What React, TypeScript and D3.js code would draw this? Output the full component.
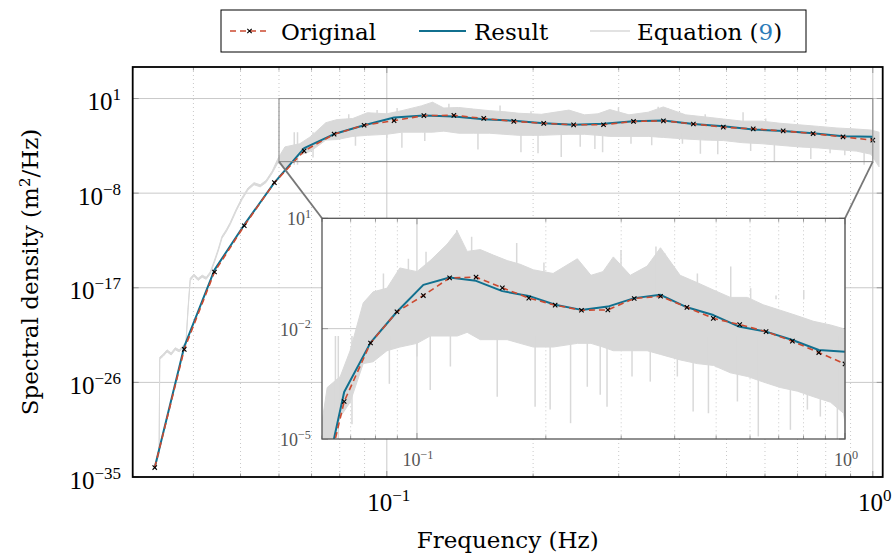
import * as d3 from "d3";

// marker frequencies (Hz)
const freq = [
  0.0333, 0.0383, 0.0442, 0.0509, 0.0587, 0.0676, 0.0779, 0.0898, 0.1035,
  0.1192, 0.1374, 0.1583, 0.1825, 0.2103, 0.2423, 0.2792, 0.3218, 0.3708,
  0.4273, 0.4924, 0.5675, 0.654, 0.7536, 0.8684, 1.0,
];
// log10 of spectral density
const originalExp = [
  -34.1, -22.86, -15.5, -11.1, -7.0, -3.98, -2.39, -1.54, -1.1, -0.62, -0.6,
  -0.89, -1.17, -1.36, -1.5, -1.49, -1.18, -1.12, -1.42, -1.72, -1.89, -2.08,
  -2.34, -2.65, -2.96,
];
const resultExp = [
  -34.1, -22.6, -15.3, -11.0, -7.0, -3.72, -2.38, -1.54, -0.81, -0.61, -0.7,
  -0.98, -1.11, -1.35, -1.49, -1.4, -1.17, -1.08, -1.42, -1.63, -1.95, -2.08,
  -2.31, -2.58, -2.63,
];

// Equation (9): noisy spectrum, read as a band (low / high edge, log10)
const grayFreq = [
  0.0333, 0.034, 0.0341, 0.0347, 0.0353, 0.036, 0.0367, 0.0374, 0.0381,
  0.0386, 0.039, 0.0394, 0.0401, 0.0409, 0.0417, 0.0425, 0.0433, 0.0441,
  0.045, 0.0458, 0.0467, 0.0476, 0.049, 0.0504, 0.0518, 0.0533, 0.0549,
  0.0564, 0.0581, 0.0597, 0.0617, 0.0662, 0.0698, 0.0749, 0.079, 0.0851,
  0.0912, 0.1, 0.1074, 0.1177, 0.1242, 0.131, 0.1406, 0.1508, 0.1625,
  0.1742, 0.187, 0.208, 0.237, 0.255, 0.272, 0.2876, 0.315, 0.345, 0.3706,
  0.412, 0.4517, 0.493, 0.5396, 0.5916, 0.644, 0.706, 0.774, 0.8436, 0.925,
  0.992, 1.03,
];
const grayLo = [
  -34.2, -32.8, -23.8, -23.5, -23.1, -23.4, -22.9, -23.1, -22.7, -22.4,
  -19.1, -16.3, -15.9, -16.3, -16.0, -16.2, -15.7, -14.7, -13.5, -12.3,
  -11.7, -11.0, -9.7, -8.6, -7.7, -7.2, -7.4, -7.0, -6.1, -5.1, -5.6, -4.4,
  -4.0, -2.95, -2.9, -2.6, -2.5, -2.4, -2.2, -2.2, -2.2, -2.1, -2.3, -2.3,
  -2.3, -2.4, -2.5, -2.5, -2.4, -2.4, -2.5, -2.6, -2.6, -2.6, -2.7, -2.85,
  -2.95, -3.0, -3.2, -3.3, -3.45, -3.6, -3.7, -3.85, -4.0, -4.3, -5.5,
];
const grayHi = [
  -34.0, -32.6, -23.6, -23.3, -22.9, -23.2, -22.7, -22.9, -22.5, -22.2,
  -18.9, -16.1, -15.7, -16.1, -15.8, -16.0, -15.5, -14.5, -13.3, -12.1,
  -11.5, -10.8, -9.5, -8.4, -7.5, -7.0, -7.2, -6.8, -5.9, -4.7, -3.6, -3.3,
  -2.6, -1.3, -1.0, -0.9, -0.35, -0.45, -0.15, 0.3, 0.65, 0.1, 0.15, 0.0,
  -0.15, -0.25, -0.4, -0.5, -0.1, -0.55, -0.45, -0.05, -0.55, -0.3, 0.2,
  -0.55, -0.75, -0.95, -1.15, -1.15, -1.35, -1.5, -1.65, -1.8, -1.9, -2.0,
  -2.2,
];
// isolated spikes of the noisy spectrum (frequency, tip in log10)
const upSpikeFreq = [
  0.0835, 0.0955, 0.105, 0.1239, 0.1342, 0.1477, 0.171, 0.198, 0.2997,
  0.3617, 0.3793, 0.452, 0.5408, 0.602, 0.69, 0.801,
];
const upSpikeTip = [
  -0.5, -0.1, 0.09, 0.68, 0.5, -0.04, 0.33, -0.2, 0.14, 0.23, 0.05, -0.5,
  -0.31, -0.9, -1.1, -0.95,
];
const downSpikeFreq = [
  0.0645, 0.0655, 0.0705, 0.0862, 0.1, 0.1074, 0.1197, 0.154, 0.1888,
  0.2047, 0.2285, 0.25, 0.268, 0.278, 0.318, 0.3508, 0.4058, 0.4418, 0.4797,
  0.5606, 0.6273, 0.7455, 0.8168, 0.8758, 0.9597,
];
const downSpikeTip = [
  -5.3, -5.3, -4.6, -3.5, -2.76, -3.67, -3.03, -3.85, -4.12, -4.2, -4.57,
  -3.58, -3.8, -4.12, -3.3, -3.44, -3.3, -4.25, -4.3, -3.98, -4.93, -4.75,
  -4.2, -4.39, -5.3,
];

const mainXMinor = [0.03, 0.04, 0.05, 0.06, 0.07, 0.08, 0.09, 0.2, 0.3, 0.4, 0.5, 0.6, 0.7, 0.8, 0.9];
const mainXMajor = [0.1, 1];
const mainYMajor = [1, -8, -17, -26, -35];
const insetYMajor = [1, -2, -5];

const BLUE = "#11708f";
const RED = "#cc4a30";
const GRAY = "#d9d9d9";
const GRID = "#c9c9c9";

const p = (e: number) => Math.pow(10, e);
const sup = (e: number) => (e < 0 ? "\u2212" + -e : String(e));

const mainBox = { l: 132.7, r: 882.7, t: 67, b: 477 };
const insetBox = { l: 322, r: 845, t: 218.3, b: 439 };

const xMain = d3.scaleLog().domain([0.03, 1.048]).range([mainBox.l, mainBox.r]);
const yMain = d3.scaleLog().domain([1e-35, 1e4]).range([mainBox.b, mainBox.t]);
const xIn = d3.scaleLog().domain([0.06, 1]).range([insetBox.l, insetBox.r]);
const yIn = d3.scaleLog().domain([1e-5, 1e1]).range([insetBox.b, insetBox.t]);

function Pow({ x, y, e, size, anchor, fill }: any) {
  return (
    <text x={x} y={y} textAnchor={anchor} fontFamily="Liberation Serif" fontSize={size} fill={fill}>
      10
      <tspan dy={-size * 0.4} fontSize={size * 0.68}>
        {sup(e)}
      </tspan>
    </text>
  );
}

function Series({ x, y }: any) {
  const band = d3
    .area<number>()
    .x((i) => x(grayFreq[i]))
    .y0((i) => y(p(grayLo[i])))
    .y1((i) => y(p(grayHi[i])));
  const idx = d3.range(grayFreq.length);
  const mk = d3.line<number>().x((i) => x(freq[i]));
  const ids = d3.range(freq.length);
  return (
    <g>
      <path d={band(idx) ?? ""} fill={GRAY} stroke={GRAY} strokeWidth={1} />
      {upSpikeFreq.map((f, i) => (
        <line key={"u" + i} x1={x(f)} x2={x(f)} y1={y(p(-1.2))} y2={y(p(upSpikeTip[i]))} stroke={GRAY} strokeWidth={1.5} />
      ))}
      {downSpikeFreq.map((f, i) => (
        <line key={"d" + i} x1={x(f)} x2={x(f)} y1={y(p(-2.2))} y2={y(p(downSpikeTip[i]))} stroke={GRAY} strokeWidth={1.5} />
      ))}
      <path d={mk.y((i) => y(p(resultExp[i])))(ids) ?? ""} fill="none" stroke={BLUE} strokeWidth={2} strokeLinejoin="round" />
      <path d={mk.y((i) => y(p(originalExp[i])))(ids) ?? ""} fill="none" stroke={RED} strokeWidth={1.6} strokeDasharray="6,4" />
      {ids.map((i) => (
        <path
          key={i}
          transform={`translate(${x(freq[i])},${y(p(originalExp[i]))})`}
          d="M-2.2,-2.2L2.2,2.2M-2.2,2.2L2.2,-2.2"
          stroke="#000"
          strokeWidth={1.1}
        />
      ))}
    </g>
  );
}

function Ticks({ x, y, box, yTicks }: any) {
  const out: any[] = [];
  mainXMajor.concat(mainXMinor).forEach((f, i) => {
    const [d0, d1] = x.domain();
    if (f < d0 || f > d1 + 1e-9) return;
    const len = mainXMajor.includes(f) ? 6 : 3.5;
    const px = x(f);
    out.push(<line key={"xt" + i} x1={px} x2={px} y1={box.b} y2={box.b - len} stroke="#999" />);
    out.push(<line key={"xb" + i} x1={px} x2={px} y1={box.t} y2={box.t + len} stroke="#999" />);
  });
  yTicks.forEach((e: number, i: number) => {
    const py = y(p(e));
    out.push(<line key={"yl" + i} x1={box.l} x2={box.l + 6} y1={py} y2={py} stroke="#999" />);
    out.push(<line key={"yr" + i} x1={box.r} x2={box.r - 6} y1={py} y2={py} stroke="#999" />);
  });
  return <g>{out}</g>;
}

function Grid({ x, y, box, yTicks, minorFrom }: any) {
  return (
    <g>
      {mainXMinor
        .filter((f) => f >= minorFrom)
        .map((f) => (
          <line key={"m" + f} x1={x(f)} x2={x(f)} y1={box.t} y2={box.b} stroke={GRID} strokeDasharray="1,3" />
        ))}
      {mainXMajor.map((f) => (
        <line key={"M" + f} x1={x(f)} x2={x(f)} y1={box.t} y2={box.b} stroke={GRID} />
      ))}
      {yTicks.map((e: number) => (
        <line key={"y" + e} x1={box.l} x2={box.r} y1={y(p(e))} y2={y(p(e))} stroke={GRID} />
      ))}
    </g>
  );
}

export default function App() {
  const serif = "DejaVu Serif";
  const zx0 = xMain(0.06);
  const zx1 = xMain(1);
  const zy0 = yMain(1e1);
  const zy1 = yMain(1e-5);
  return (
    <div style={{ position: "absolute", left: 0, top: 0 }}>
      <svg width={893} height={558} style={{ display: "block", background: "#fff" }}>
        <defs>
          <clipPath id="clipMain">
            <rect x={mainBox.l} y={mainBox.t} width={mainBox.r - mainBox.l} height={mainBox.b - mainBox.t} />
          </clipPath>
          <clipPath id="clipInset">
            <rect x={insetBox.l} y={insetBox.t} width={insetBox.r - insetBox.l} height={insetBox.b - insetBox.t} />
          </clipPath>
        </defs>

        {/* main axes */}
        <Grid x={xMain} y={yMain} box={mainBox} yTicks={[1, -8, -17, -26]} minorFrom={0.04} />
        <Ticks x={xMain} y={yMain} box={mainBox} yTicks={mainYMajor} />
        <g clipPath="url(#clipMain)">
          <Series x={xMain} y={yMain} />
        </g>
        <rect x={zx0} y={zy0} width={zx1 - zx0} height={zy1 - zy0} fill="none" stroke="#8c8c8c" strokeWidth={1.1} />
        <line x1={zx0} y1={zy1} x2={insetBox.l} y2={insetBox.t} stroke="#777" strokeWidth={1.8} />
        <line x1={zx1} y1={zy1} x2={insetBox.r} y2={insetBox.t} stroke="#777" strokeWidth={1.8} />
        <rect x={mainBox.l} y={mainBox.t} width={mainBox.r - mainBox.l} height={mainBox.b - mainBox.t} fill="none" stroke="#000" strokeWidth={1.8} />

        {mainYMajor.map((e) => (
          <Pow key={e} x={121} y={yMain(p(e)) + 11.5} e={e} size={25} anchor="end" fill="#000" />
        ))}
        {mainXMajor.map((f) => (
          <Pow key={f} x={xMain(f) + 2} y={511} e={Math.round(Math.log10(f))} size={25} anchor="middle" fill="#000" />
        ))}

        {/* inset */}
        <rect x={insetBox.l} y={insetBox.t} width={insetBox.r - insetBox.l} height={insetBox.b - insetBox.t} fill="#fff" />
        <Grid x={xIn} y={yIn} box={insetBox} yTicks={[-2]} minorFrom={0.07} />
        <Ticks x={xIn} y={yIn} box={insetBox} yTicks={insetYMajor} />
        <g clipPath="url(#clipInset)">
          <Series x={xIn} y={yIn} />
        </g>
        <rect x={insetBox.l} y={insetBox.t} width={insetBox.r - insetBox.l} height={insetBox.b - insetBox.t} fill="none" stroke="#555" strokeWidth={1.3} />
        {insetYMajor.map((e) => (
          <Pow key={e} x={311} y={yIn(p(e)) + 7} e={e} size={18} anchor="end" fill="#555" />
        ))}
        {mainXMajor.map((f) => (
          <Pow key={f} x={xIn(f) + 1} y={466} e={Math.round(Math.log10(f))} size={18} anchor="middle" fill="#555" />
        ))}

        {/* axis titles */}
        <text x={(mainBox.l + mainBox.r) / 2} y={548} textAnchor="middle" fontFamily={serif} fontSize={23}>
          Frequency (Hz)
        </text>
        <text transform={`translate(38,${(mainBox.t + mainBox.b) / 2}) rotate(-90)`} textAnchor="middle" fontFamily={serif} fontSize={23}>
          Spectral density (m
          <tspan dy={-8} fontSize={15}>2</tspan>
          <tspan dy={8}>/Hz)</tspan>
        </text>

        {/* legend */}
        <rect x={221} y={10} width={585} height={42} fill="#fff" stroke="#000" strokeWidth={1} />
        <line x1={229} x2={270} y1={31} y2={31} stroke={RED} strokeWidth={1.6} strokeDasharray="6,4" strokeDashoffset={-1} />
        <path transform="translate(249.5,31)" d="M-2.2,-2.2L2.2,2.2M-2.2,2.2L2.2,-2.2" stroke="#000" strokeWidth={1.1} />
        <text x={281} y={39.5} fontFamily={serif} fontSize={23}>Original</text>
        <line x1={419} x2={466} y1={31} y2={31} stroke={BLUE} strokeWidth={2} />
        <text x={474} y={39.5} fontFamily={serif} fontSize={23}>Result</text>
        <line x1={590} x2={630} y1={31} y2={31} stroke={GRAY} strokeWidth={1.5} />
        <text x={637} y={39.5} fontFamily={serif} fontSize={23}>
          Equation (<tspan fill="#2b7bb9">9</tspan>)
        </text>
      </svg>
    </div>
  );
}
